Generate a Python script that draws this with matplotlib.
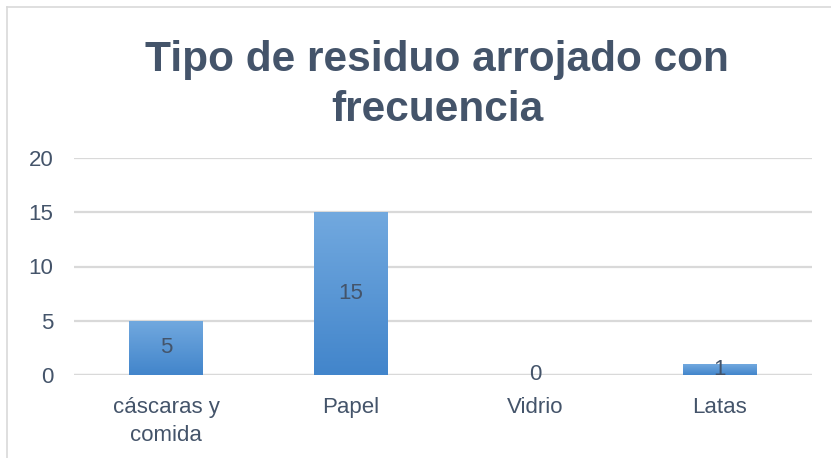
import numpy as np
import matplotlib.pyplot as plt
from matplotlib.lines import Line2D

categories = ["cáscaras y\ncomida", "Papel", "Vidrio", "Latas"]
values = [5, 15, 0, 1]
y_ticks = [0, 5, 10, 15, 20]

text_color = "#44546A"
grid_color = "#D9D9D9"

plt.rcParams['font.family'] = ['Liberation Sans', 'DejaVu Sans']

fig = plt.figure(figsize=(8.31, 4.58), dpi=100)
ax = fig.add_axes([74 / 831, 1 - 375 / 458, (812 - 74) / 831, (375 - 158) / 458])

x = np.arange(len(categories))
bars = ax.bar(x, values, width=0.4, color="#5B9BD5", zorder=2)

# vertical gradient inside each bar, like the Office fill
grad = np.linspace(0, 1, 256).reshape(-1, 1)
cmap = plt.matplotlib.colors.LinearSegmentedColormap.from_list("g", ["#4285CB", "#72A9DF"])
for b in bars:
    if b.get_height() <= 0:
        continue
    x0, y0 = b.get_x(), b.get_y()
    im = ax.imshow(grad, extent=[x0, x0 + b.get_width(), y0, y0 + b.get_height()],
                   origin="lower", aspect="auto", cmap=cmap, zorder=3)
    im.set_clip_path(b)

for i, v in enumerate(values):
    ax.text(x[i], v / 2, str(v), ha="center", va="center", fontsize=16,
            color=text_color, zorder=4)

ax.set_xlim(-0.5, len(categories) - 0.5)
ax.set_ylim(0, 20)
ax.set_yticks(y_ticks)
ax.set_xticks(x)
ax.set_xticklabels(categories, fontsize=16, color=text_color, linespacing=1.4)
ax.tick_params(axis="y", labelsize=16, labelcolor=text_color, length=0, pad=15)
ax.tick_params(axis="x", length=0, pad=16)
ax.yaxis.grid(True, color=grid_color, linewidth=1.6, zorder=0)
ax.set_axisbelow(True)
for s in ax.spines.values():
    s.set_visible(False)
ax.axhline(0, color=grid_color, linewidth=1.6, zorder=1)

fig.text(437 / 831, 1 - 85 / 458, "Tipo de residuo arrojado con\nfrecuencia",
         ha="center", va="center", fontsize=30.5, fontweight="bold", color=text_color,
         linespacing=1.3)

# chart area frame (extends past the bottom/right of the crop)
fig.add_artist(Line2D([7 / 831, 1], [1 - 7 / 458, 1 - 7 / 458], transform=fig.transFigure,
                      color=grid_color, linewidth=1.2))
fig.add_artist(Line2D([7 / 831, 7 / 831], [0, 1 - 7 / 458], transform=fig.transFigure,
                      color=grid_color, linewidth=1.2))

fig.savefig("out.png", dpi=100)
